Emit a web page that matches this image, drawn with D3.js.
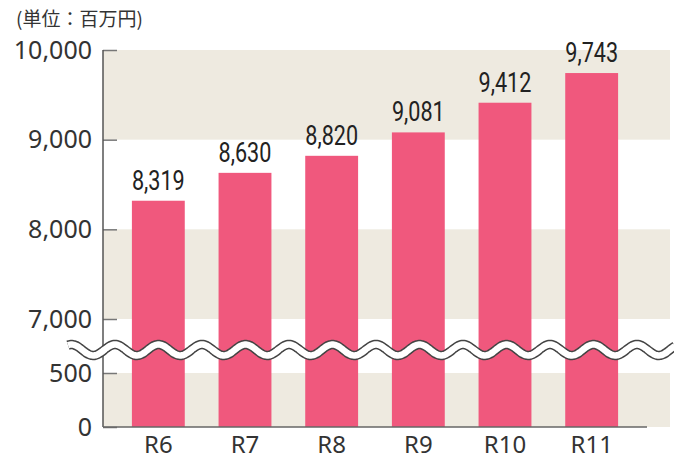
<!DOCTYPE html>
<html>
<head>
<meta charset="utf-8">
<script src="https://cdn.jsdelivr.net/npm/d3@7"></script>
<style>
  html, body { margin: 0; padding: 0; background: #fff; }
  svg { display: block; }
</style>
</head>
<body>
<div id="chart"></div>
<script>
// fiscal years and amounts (million yen)
const categories = ['R6', 'R7', 'R8', 'R9', 'R10', 'R11'];
const values = [8319, 8630, 8820, 9081, 9412, 9743];
const upperTicks = [7000, 8000, 9000, 10000];
const lowerTicks = [0, 500];
const upperBands = [[7000, 8000], [9000, 10000]];
const lowerBands = [[0, 500]];
const unitLabel = '(単位：百万円)';

const W = 674, H = 459;
const left = 103, right = 670, axisEnd = 647;
const barColor = '#f0587d';
const bandColor = '#eeeae0';
const textColor = '#333';
const sansFont = '"Noto Sans", "Open Sans", sans-serif';

const svg = d3.select('#chart').append('svg')
  .attr('width', W).attr('height', H)
  .attr('viewBox', `0 0 ${W} ${H}`);

// broken y axis: upper part and lower part
const yUp = d3.scaleLinear().domain([7000, 10000]).range([319, 50]);
const yLow = d3.scaleLinear().domain([0, 500]).range([427, 373]);

const x = d3.scaleBand()
  .domain(categories)
  .range([115, 635])
  .paddingInner(0.39)
  .paddingOuter(0.195);

// background bands
svg.append('g').selectAll('rect.up')
  .data(upperBands)
  .join('rect')
  .attr('x', left).attr('width', right - left)
  .attr('y', d => yUp(d[1]))
  .attr('height', d => yUp(d[0]) - yUp(d[1]))
  .attr('fill', bandColor);

svg.append('g').selectAll('rect.low')
  .data(lowerBands)
  .join('rect')
  .attr('x', left).attr('width', right - left)
  .attr('y', d => yLow(d[1]))
  .attr('height', d => yLow(d[0]) - yLow(d[1]))
  .attr('fill', bandColor);

// bars run from 0 on the lower scale up to the value on the upper scale
svg.append('g').selectAll('rect.bar')
  .data(values)
  .join('rect')
  .attr('class', 'bar')
  .attr('x', (d, i) => x(categories[i]))
  .attr('width', x.bandwidth())
  .attr('y', d => yUp(d))
  .attr('height', d => yLow(0) - yUp(d))
  .attr('fill', barColor);

// value labels, narrow DIN-like look
svg.append('g').selectAll('text')
  .data(values)
  .join('text')
  .attr('transform', (d, i) =>
    `translate(${x(categories[i]) + x.bandwidth() / 2},${yUp(d) - 11}) scale(0.8,1)`)
  .attr('text-anchor', 'middle')
  .attr('font-family', 'Roboto, sans-serif')
  .attr('font-size', 27)
  .attr('fill', '#222')
  .text(d => d3.format(',')(d));

// y axes
function styleAxis(g) {
  g.select('.domain').remove();
  g.selectAll('.tick line').attr('stroke', '#777').attr('stroke-width', 1.5);
  g.selectAll('.tick text')
    .attr('font-family', sansFont)
    .attr('font-size', 25)
    .attr('fill', textColor);
}

svg.append('g')
  .attr('transform', `translate(${left},0)`)
  .call(d3.axisLeft(yUp).tickValues(upperTicks).tickSize(-14).tickPadding(11)
    .tickFormat(d3.format(',')))
  .call(styleAxis);

svg.append('g')
  .attr('transform', `translate(${left},0)`)
  .call(d3.axisLeft(yLow).tickValues(lowerTicks).tickSize(-14).tickPadding(11)
    .tickFormat(d3.format(',')))
  .call(styleAxis);

// axis lines
svg.append('line')
  .attr('x1', left).attr('x2', left)
  .attr('y1', yUp(10000)).attr('y2', yLow(0))
  .attr('stroke', '#555').attr('stroke-width', 1.5);

const xAxis = svg.append('g')
  .attr('transform', `translate(0,${yLow(0)})`)
  .call(d3.axisBottom(x).tickSize(0).tickPadding(9));
xAxis.select('.domain').remove();
xAxis.selectAll('text')
  .attr('font-family', sansFont)
  .attr('font-size', 24)
  .attr('fill', textColor);

svg.append('line')
  .attr('x1', left).attr('x2', axisEnd)
  .attr('y1', yLow(0)).attr('y2', yLow(0))
  .attr('stroke', '#666').attr('stroke-width', 1.5);

// wavy break mark across the gap
const waveY = 350, waveAmp = 5.5, wavePeriod = 43.5, wavePhase = 115;
const wavePts = d3.range(68, W + 2, 1).map(px =>
  [px, waveY - waveAmp * Math.cos(2 * Math.PI * (px - wavePhase) / wavePeriod)]);
const wave = d3.line().curve(d3.curveBasis);
svg.append('path')
  .attr('d', wave(wavePts))
  .attr('fill', 'none')
  .attr('stroke', '#444')
  .attr('stroke-width', 9.5);
svg.append('path')
  .attr('d', wave(wavePts))
  .attr('fill', 'none')
  .attr('stroke', '#fff')
  .attr('stroke-width', 6.5);

// unit label
svg.append('text')
  .attr('x', 16).attr('y', 26)
  .attr('font-family', '"Noto Sans CJK JP", sans-serif')
  .attr('font-size', 19)
  .attr('fill', textColor)
  .text(unitLabel);
</script>
</body>
</html>
